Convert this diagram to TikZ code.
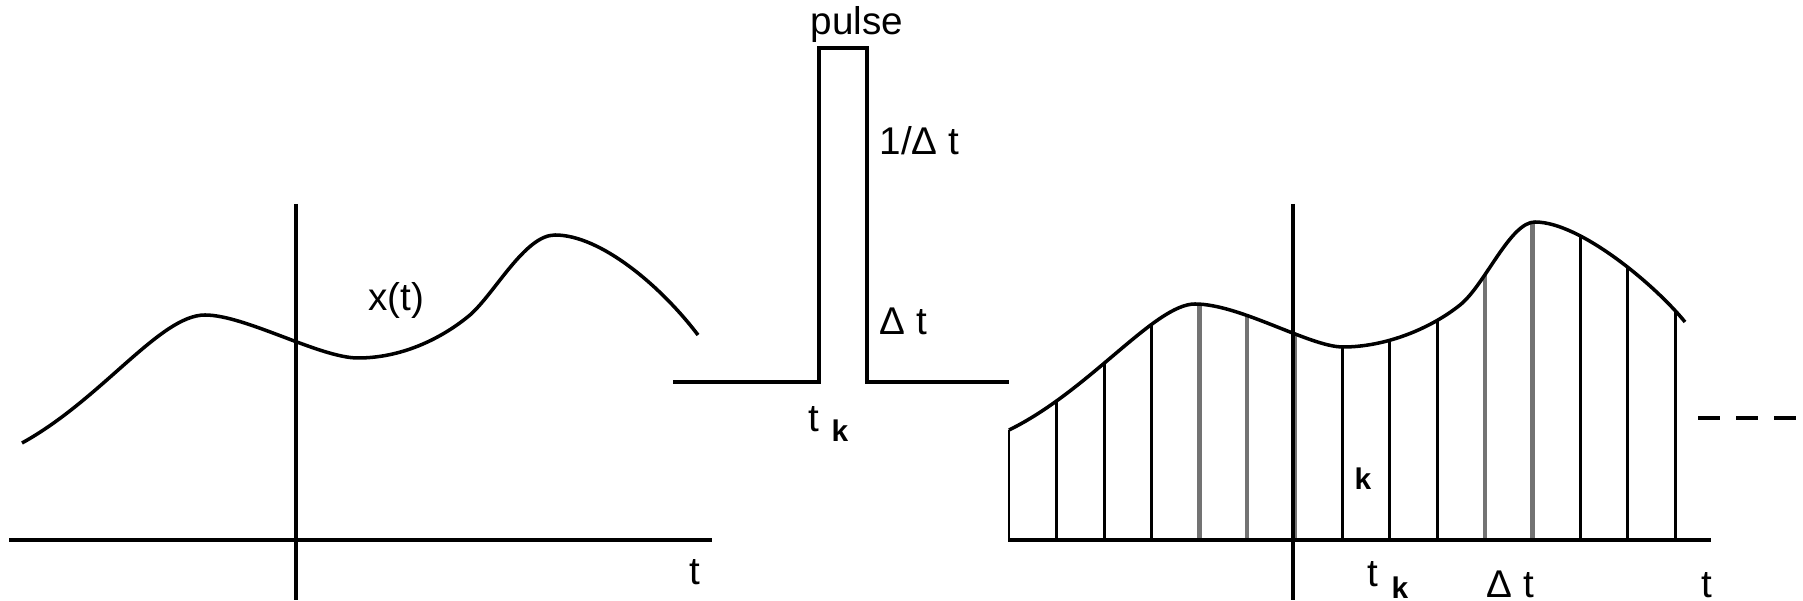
\documentclass[tikz,border=0pt]{standalone}
\usepackage{fontspec}
\setmainfont{Liberation Sans}
\newcommand{\sigleft}{(22,443) .. controls (102,399) and (160,315) .. (205,315) .. controls (245,315) and (320,358) .. (358,358) .. controls (400,358) and (440,340) .. (470,315) .. controls (495,293) and (525,235) .. (555,235) .. controls (600,235) and (660,285) .. (698,335)}
\newcommand{\sigright}{(1009,430) .. controls (1089,391) and (1155,304) .. (1195,304) .. controls (1240,304) and (1310,347) .. (1343,347) .. controls (1385,347) and (1430,329) .. (1460,305) .. controls (1485,285) and (1510,222) .. (1535,222) .. controls (1580,222) and (1655,285) .. (1685,322)}
\begin{document}
\begin{tikzpicture}[x=0.1mm,y=-0.1mm,line width=0.9pt,every node/.style={font=\fontsize{11}{13}\selectfont,inner sep=0pt,anchor=base west},sub/.style={font=\fontsize{8.5}{10}\selectfont\bfseries},hatch/.style={line width=0.8pt},hatchgray/.style={line width=1.3pt,black!55}]
\useasboundingbox (0,0) rectangle (1803,601);
\draw (9,540)--(712,540); \draw (296,204)--(296,600);
\draw[line width=1pt] \sigleft;
\node (xt) at (367,311) {x(t)}; \node (tl) at (688,585) {t};
\draw (673,382)--(819,382)--(819,48)--(867,48)--(867,382)--(1009,382);
\node[anchor=base] (pulse) at (857,35) {pulse}; \node (amp) at (878,155) {1/Δ t}; \node (width) at (878,335) {Δ t};
\node (tk) at (807,432) {t}; \node[sub] (tksub) at (830,442) {k};
\begin{scope}
\clip \sigright -- (1685,545) -- (1000,545) -- (1000,430) -- cycle;
\foreach \i in {0,1,2,3,7,8,9,12,13,14} \draw[hatch] (1009+47.6*\i,540)--++(0,-400);
\foreach \i in {4,5,6,10,11} \draw[hatchgray] (1009+47.6*\i,540)--++(0,-400);
\end{scope}
\draw (1008,540)--(1711,540); \draw (1293,204)--(1293,600);
\draw[line width=1pt] \sigright;
\draw[dash pattern=on 2.2mm off 1.6mm] (1698,418)--(1796,418);
\node[sub] (k) at (1353,490) {k}; \node (tk2) at (1366,587) {t}; \node[sub] (tk2sub) at (1390,599) {k};
\node (dt) at (1485,598) {Δ t}; \node (tr) at (1700,598) {t};
\end{tikzpicture}
\end{document}
